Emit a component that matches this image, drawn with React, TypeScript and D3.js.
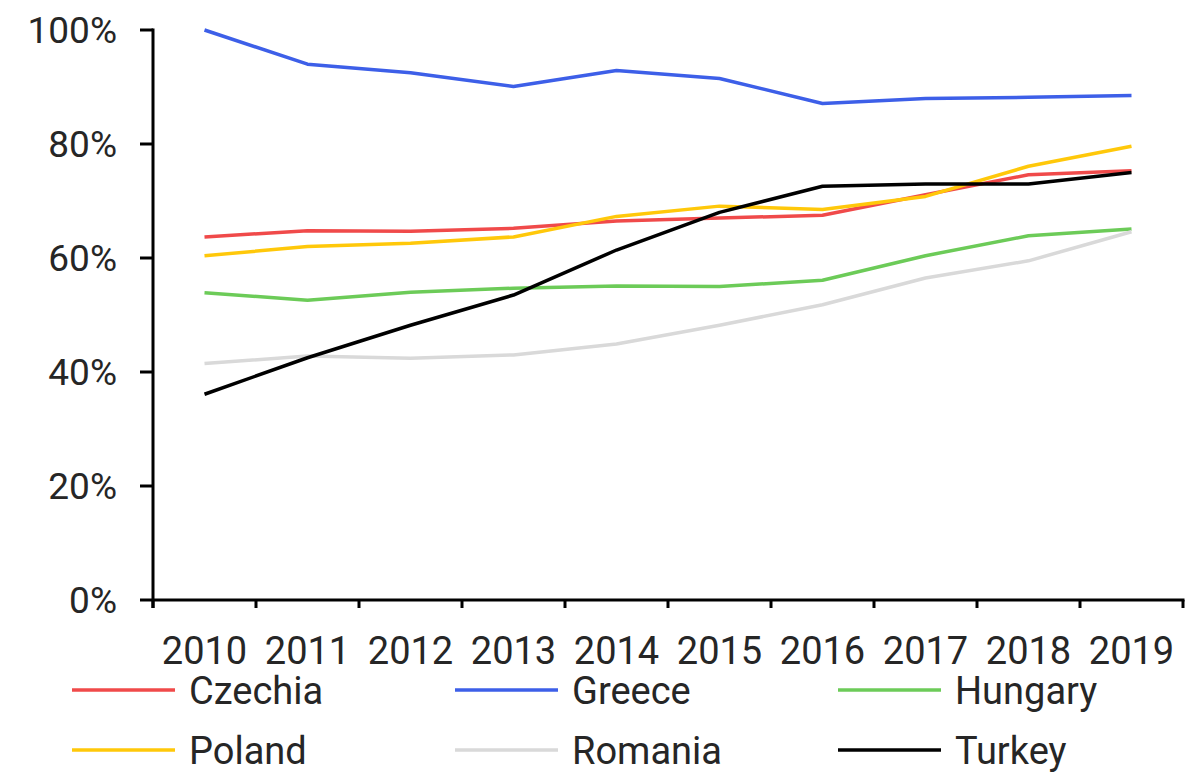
import React from "react";
import * as d3 from "d3";

const years = ["2010","2011","2012","2013","2014","2015","2016","2017","2018","2019"];
const czechia = [63.7, 64.8, 64.7, 65.2, 66.5, 67.0, 67.5, 71.1, 74.6, 75.3];
const greece = [100, 94.0, 92.5, 90.1, 92.9, 91.5, 87.1, 88.0, 88.2, 88.5];
const hungary = [53.9, 52.6, 54.0, 54.7, 55.1, 55.0, 56.1, 60.4, 63.9, 65.1];
const poland = [60.4, 62.0, 62.6, 63.7, 67.3, 69.1, 68.5, 70.8, 76.1, 79.6];
const romania = [41.5, 42.8, 42.4, 43.0, 44.9, 48.2, 51.8, 56.5, 59.5, 64.6];
const turkey = [36.1, 42.5, 48.2, 53.5, 61.4, 68.0, 72.6, 73.0, 73.0, 75.0];
const yTicks = [0, 20, 40, 60, 80, 100];

const series = [
  { name: "Czechia", values: czechia, color: "#F04A4A" },
  { name: "Greece", values: greece, color: "#3D5FE8" },
  { name: "Hungary", values: hungary, color: "#6CCB58" },
  { name: "Poland", values: poland, color: "#FFC80A" },
  { name: "Romania", values: romania, color: "#D9D9D9" },
  { name: "Turkey", values: turkey, color: "#000000" },
];

const W = 1195, H = 772;
const left = 153, right = 1183, top = 30, bottom = 600;
const FONT = "Roboto, 'Noto Sans', sans-serif";
const TEXT = "#262626";

export default function App() {
  const x = d3.scaleBand().domain(years).range([left, right]).paddingInner(0).paddingOuter(0);
  const y = d3.scaleLinear().domain([0, 100]).range([bottom, top]);
  const line = d3.line<number>()
    .x((_, i) => (x(years[i]) as number) + x.bandwidth() / 2)
    .y((d) => y(d));
  const xTickPos = years.map((yr) => x(yr) as number).concat([right]);

  const legendCols = [72, 455, 838];
  const legendRows = [690, 750];

  return (
    <svg width={W} height={H} style={{ position: "absolute", left: 0, top: 0 }}>
      <rect width={W} height={H} fill="#fff" />
      {series.map((s) => (
        <path key={s.name} d={line(s.values) || ""} fill="none" stroke={s.color} strokeWidth={3.5} strokeLinejoin="round" />
      ))}
      {/* y axis */}
      <line x1={left} x2={left} y1={top - 1.5} y2={bottom + 8} stroke="#000" strokeWidth={3} />
      {yTicks.map((t) => (
        <g key={t}>
          <line x1={left - 13} x2={left} y1={y(t)} y2={y(t)} stroke="#000" strokeWidth={3} />
          <text x={117} y={y(t)} dy="0.36em" textAnchor="end" fontFamily={FONT} fontSize={37} fill={TEXT}>{t}%</text>
        </g>
      ))}
      {/* x axis */}
      <line x1={left} x2={right + 1.5} y1={bottom} y2={bottom} stroke="#000" strokeWidth={3} />
      {xTickPos.map((p, i) => (
        <line key={i} x1={p} x2={p} y1={bottom} y2={bottom + 8} stroke="#000" strokeWidth={3} />
      ))}
      {years.map((yr) => (
        <text key={yr} x={(x(yr) as number) + x.bandwidth() / 2} y={650} dy="0.36em" textAnchor="middle" fontFamily={FONT} fontSize={38} fill={TEXT}>{yr}</text>
      ))}
      {/* legend */}
      {series.map((s, i) => {
        const cx = legendCols[i % 3];
        const cy = legendRows[Math.floor(i / 3)];
        return (
          <g key={s.name}>
            <line x1={cx} x2={cx + 103} y1={cy} y2={cy} stroke={s.color} strokeWidth={3.5} />
            <text x={cx + 117} y={cy} dy="0.36em" fontFamily={FONT} fontSize={38} fill={TEXT}>{s.name}</text>
          </g>
        );
      })}
    </svg>
  );
}
